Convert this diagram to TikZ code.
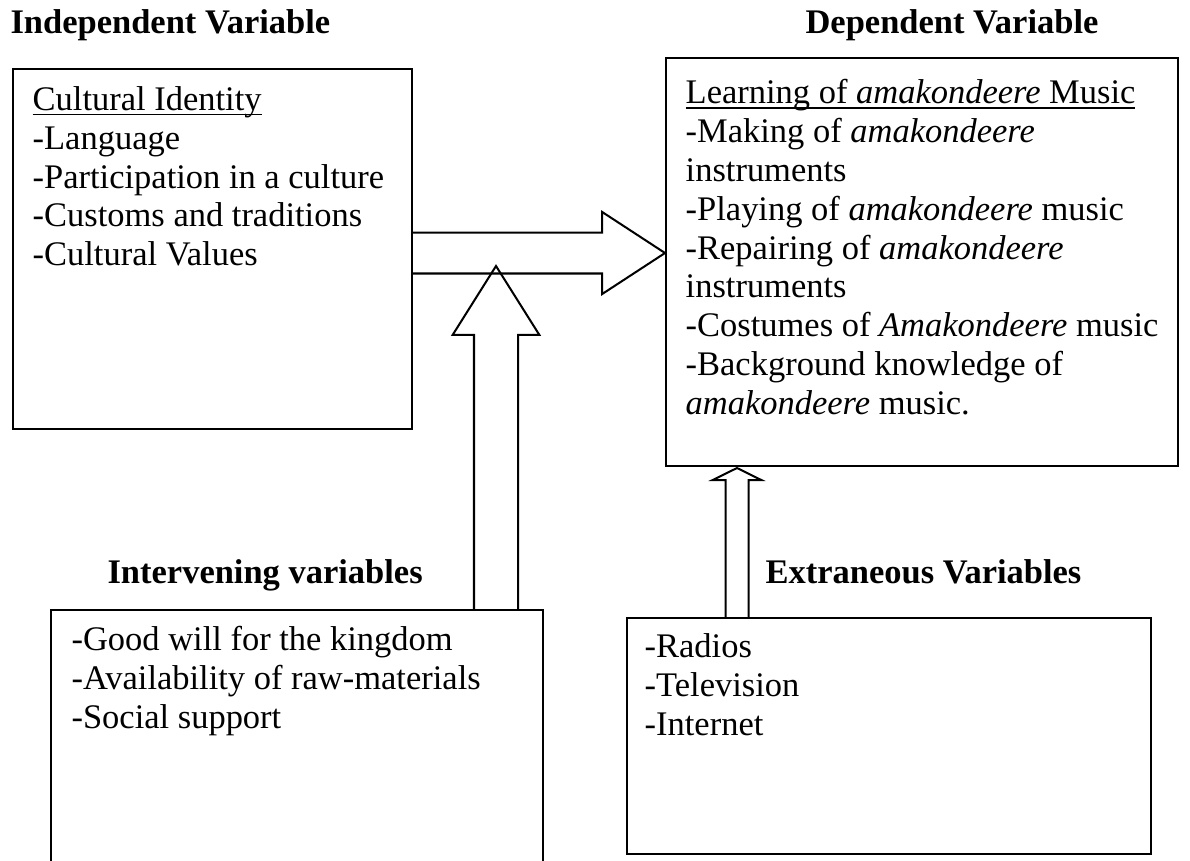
\documentclass[tikz,border=0pt]{standalone}
\usepackage{fontspec}
\setmainfont{Liberation Serif}
\usetikzlibrary{calc,positioning}

\newcommand\px{0.348pt}
\newcommand\ulined[1]{\underline{\raisebox{0pt}[\height][0pt]{#1}}}
\tikzset{
  varbox/.style={draw, line width=0.7pt, inner sep=0pt, anchor=north west},
  vartext/.style={align=left, inner sep=0pt, anchor=north west, font=\fontsize{12}{13.5}\selectfont},
  varhead/.style={inner sep=0pt, anchor=base west, font=\fontsize{12}{13.5}\selectfont\bfseries},
  fatline/.style={line width=0.7pt, line join=miter},
}
% tail, tip, shaft half width, head half width, head length
\newcommand\fatarrow[5]{%
  \coordinate (fh) at ($(#2)!#5!(#1)$);
  \draw[fatline] ($(#1)!#3!90:(#2)$) -- ($(fh)!#3!90:(#2)$) -- ($(fh)!#4!90:(#2)$)
    -- (#2) -- ($(fh)!#4!-90:(#2)$) -- ($(fh)!#3!-90:(#2)$) -- ($(#1)!#3!-90:(#2)$);
}

\begin{document}
\begin{tikzpicture}[x=\px, y=-\px]
\useasboundingbox (0,0) rectangle (1190,860);

\node[varhead] (indhead) at (10,33) {Independent Variable};
\node[varhead] (dephead) at (805,33) {Dependent Variable};
\node[varhead] (inthead) at (107,583) {Intervening variables};
\node[varhead] (exthead) at (765,583) {Extraneous Variables};

\node[varbox, minimum width=399*\px, minimum height=360*\px] (idbox) at (12,68) {};
\node[varbox, minimum width=512*\px, minimum height=408*\px] (lrnbox) at (665,57) {};
\node[varbox, minimum width=492*\px, minimum height=262*\px] (intbox) at (50,609) {};
\node[varbox, minimum width=524*\px, minimum height=236*\px] (extbox) at (626,617) {};

\node[vartext, below right=6.3pt and 7pt of idbox.north west] (idtext)
  {\ulined{Cultural Identity}\\ -Language\\ -Participation in a culture\\
   -Customs and traditions\\ -Cultural Values};
\node[vartext, below right=7.7pt and 7pt of lrnbox.north west] (lrntext)
  {\ulined{Learning of \textit{amakondeere} Music}\\
   -Making of \textit{amakondeere}\\ instruments\\
   -Playing of \textit{amakondeere} music\\
   -Repairing of \textit{amakondeere}\\ instruments\\
   -Costumes of \textit{Amakondeere} music\\
   -Background knowledge of\\ \textit{amakondeere} music.};
\node[vartext, below right=5.9pt and 7.3pt of intbox.north west] (inttext)
  {-Good will for the kingdom\\ -Availability of raw-materials\\ -Social support};
\node[vartext, below right=5.6pt and 6.3pt of extbox.north west] (exttext)
  {-Radios\\ -Television\\ -Internet};

\coordinate (hrow) at (0,253);
\coordinate (hA) at (idbox.east |- hrow);
\coordinate (hB) at (lrnbox.west |- hrow);
\coordinate (vB) at (496,266);
\coordinate (vA) at (vB |- intbox.north);
\coordinate (sB) at (737,468);
\coordinate (sA) at (sB |- extbox.north);

\fatarrow{hA}{hB}{7.13pt}{14.3pt}{21.9pt}
\fatarrow{vA}{vB}{7.66pt}{15.1pt}{24pt}
\fatarrow{sA}{sB}{4pt}{8.5pt}{4.2pt}
\end{tikzpicture}
\end{document}
